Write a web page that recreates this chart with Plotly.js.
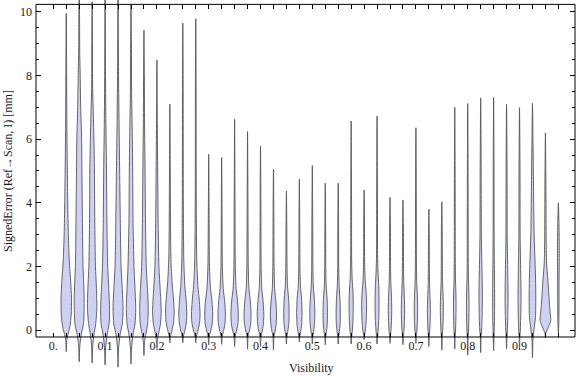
<!DOCTYPE html>
<html><head><meta charset="utf-8">
<script src="https://cdn.plot.ly/plotly-3.0.1.min.js"></script>
<style>html,body{margin:0;padding:0;background:#fff}#chart{width:576px;height:377px}</style>
</head><body><div id="chart"></div>
<script>
// ---- data ----
const visibility = [0.025,0.05,0.075,0.1,0.125,0.15,0.175,0.2,0.225,0.25,0.275,0.3,0.325,0.35,0.375,0.4,0.425,0.45,0.475,0.5,0.525,0.55,0.575,0.6,0.625,0.65,0.675,0.7,0.725,0.75,0.775,0.8,0.825,0.85,0.875,0.9,0.925,0.95,0.975];
const errMin = [-0.68,-1.0,-1.04,-1.1,-1.17,-1.07,-0.8,-0.57,-0.41,-0.4,-0.4,-0.47,-0.45,-0.52,-0.6,-0.52,-0.63,-0.44,-0.37,-0.44,-0.47,-0.44,-0.44,-0.3,-0.44,-0.42,-0.46,-0.42,-0.52,-0.63,-0.6,-0.79,-0.71,-0.65,-0.6,-0.6,-0.88,-0.25,-0.1];
const errMax = [9.96,10.9,10.32,11.0,10.8,10.22,9.43,8.49,7.1,9.65,9.79,5.53,5.42,6.63,6.24,5.79,5.06,4.37,4.75,5.17,4.62,4.62,6.57,4.4,6.73,4.17,4.09,6.36,3.8,4.03,7.0,7.12,7.3,7.31,7.09,6.99,7.13,6.2,4.0];
// density profile of each violin: error levels and relative density (half-width) at those levels
const densityLevels = [
 [-0.3,-0.1,0.1,0.5,1.0,1.5,2.2,3,4,5,6.5,8],
 [-0.5,-0.15,0.2,0.9,1.5,2,3.5,5,6,7,8,8.8,9.6],
 [-0.5,-0.1,0.2,0.7,1.3,2,3.5,5,6,7,7.6,9],
 [-0.6,-0.15,0.2,0.6,1.2,2,3.5,5,6.5,8],
 [-0.6,-0.15,0.2,0.7,1.3,2,3.5,5,6.5,8],
 [-0.6,-0.15,0.2,0.65,1.3,2,3.5,5,6.5,7.5,9],
 [-0.4,-0.1,0.2,0.7,1.3,2,3.5,5,6.5,8],
 [-0.3,-0.05,0.2,0.6,1.2,2,3.5,5,6.5],
 [-0.2,0,0.25,0.6,1.0,1.5,2.2,3.5,5],
 [-0.2,0,0.25,0.5,0.9,1.4,2.2,3.5,5.5,7.5],
 [-0.2,0,0.25,0.5,0.9,1.4,2.2,3.5,5.5,7.5],
 [-0.2,0,0.2,0.5,0.9,1.3,2,3.5],
 [-0.2,0,0.2,0.5,0.9,1.3,2,3.5],
 [-0.2,0,0.2,0.5,0.9,1.3,2,4],
 [-0.2,0,0.2,0.5,0.9,1.3,2,4],
 [-0.2,0,0.2,0.5,0.9,1.3,2,4],
 [-0.2,0,0.2,0.5,0.9,1.3,2,3.5],
 [-0.2,0,0.2,0.55,1.0,1.4,2,3.2],
 [-0.2,0,0.2,0.55,1.0,1.4,2,3.2],
 [-0.2,0,0.2,0.55,1.0,1.4,2,3.5],
 [-0.2,0,0.2,0.55,1.0,1.4,2,3.2],
 [-0.2,0,0.2,0.55,1.0,1.4,2,3.2],
 [-0.2,0,0.3,0.8,1.2,1.6,2.2,4],
 [-0.15,0,0.3,0.8,1.2,1.6,2.2,3.5],
 [-0.2,0,0.3,0.9,1.4,1.8,2.4,4],
 [-0.2,0,0.3,0.7,1.1,1.5,2.2,3.3],
 [-0.2,0,0.3,0.6,1.0,1.5,2.2,3.3],
 [-0.2,0,0.3,0.7,1.1,1.5,2.2,4],
 [-0.2,0,0.3,0.6,1.0,1.4,2,3],
 [-0.2,0,0.3,0.7,1.1,1.5,2.2,3.2],
 [-0.2,0,0.3,0.8,1.2,1.6,2.4,4.5],
 [-0.2,0,0.3,0.8,1.2,1.6,2.4,4.5],
 [-0.2,0,0.4,1.0,1.6,2.2,3,5],
 [-0.2,0,0.4,1.0,1.6,2.2,3,5],
 [-0.2,0,0.4,1.0,1.6,2.2,3,5],
 [-0.2,0,0.4,1.0,1.6,2.2,3,5],
 [-0.3,0,0.4,1.0,1.6,2.2,3.1,4.0,4.7,6],
 [-0.1,0.05,0.3,0.6,1.0,1.6,2.1,3,4.5],
 [0.3,1.5,2.5,3.3]
];
const densityValues = [
 [0.6,2.0,3.6,5.0,5.2,4.5,3.0,2.1,1.5,1.1,0.6,0.4],
 [0.6,2.0,4.3,5.0,4.5,3.8,3.2,2.7,2.4,1.5,1.0,0.5,0.4],
 [0.6,2.0,3.6,4.7,4.3,3.3,2.6,2.3,1.8,1.0,0.5,0.4],
 [0.5,2.0,4.0,4.5,3.8,2.6,1.8,1.4,0.8,0.4],
 [0.5,2.0,4.3,5.0,4.2,3.0,2.2,1.6,1.0,0.5],
 [0.5,2.0,4.0,4.7,4.0,3.0,2.0,1.7,1.1,0.6,0.4],
 [0.5,2.0,3.7,4.3,3.5,2.3,1.5,1.1,0.6,0.4],
 [0.6,2.0,3.6,4.3,3.4,2.0,1.2,0.8,0.4],
 [0.6,2.2,3.8,4.3,3.6,2.2,1.1,0.6,0.4],
 [0.6,2.2,3.6,4.0,3.4,2.0,1.0,0.6,0.4,0.35],
 [0.6,2.3,3.9,4.3,3.6,2.1,1.0,0.6,0.4,0.35],
 [0.6,2.2,3.5,4.0,3.3,1.8,0.8,0.4],
 [0.6,2.1,3.3,3.7,3.0,1.6,0.7,0.4],
 [0.6,2.1,3.3,3.7,3.0,1.5,0.7,0.4],
 [0.5,2.0,3.1,3.5,2.8,1.4,0.7,0.4],
 [0.5,1.9,2.9,3.3,2.6,1.3,0.6,0.4],
 [0.5,1.8,2.7,3.1,2.4,1.2,0.6,0.4],
 [0.5,1.6,2.4,2.7,2.2,1.1,0.6,0.4],
 [0.5,1.6,2.4,2.7,2.2,1.1,0.6,0.4],
 [0.5,1.5,2.2,2.5,2.0,1.0,0.6,0.4],
 [0.5,1.4,2.0,2.2,1.8,0.9,0.5,0.4],
 [0.5,1.3,1.9,2.1,1.7,0.9,0.5,0.4],
 [0.5,1.2,1.8,2.1,1.8,1.0,0.5,0.4],
 [0.5,1.3,2.1,2.5,2.0,1.0,0.5,0.4],
 [0.5,1.1,1.7,2.0,1.7,1.0,0.5,0.4],
 [0.4,1.0,1.5,1.7,1.4,0.8,0.5,0.4],
 [0.4,1.0,1.5,1.7,1.4,0.8,0.5,0.4],
 [0.4,1.0,1.5,1.7,1.4,0.8,0.5,0.4],
 [0.4,0.9,1.3,1.5,1.2,0.7,0.5,0.4],
 [0.4,0.9,1.3,1.5,1.2,0.7,0.5,0.4],
 [0.4,0.8,1.1,1.3,1.1,0.7,0.5,0.4],
 [0.4,0.8,1.1,1.3,1.1,0.7,0.5,0.4],
 [0.4,0.9,1.4,1.7,1.5,1.1,0.7,0.5],
 [0.4,0.6,0.9,1.0,0.9,0.7,0.5,0.4],
 [0.4,0.8,1.2,1.5,1.3,1.0,0.6,0.5],
 [0.4,0.8,1.2,1.5,1.3,1.0,0.6,0.5],
 [0.5,1.5,3.0,3.3,3.1,2.5,1.6,1.2,1.0,0.5],
 [0.4,2.5,5.3,4.6,3.6,2.4,1.2,0.7,0.5],
 [0.5,0.7,0.9,0.6]
];
const xTickVals = [0,0.025,0.05,0.075,0.1,0.125,0.15,0.175,0.2,0.225,0.25,0.275,0.3,0.325,0.35,0.375,0.4,0.425,0.45,0.475,0.5,0.525,0.55,0.575,0.6,0.625,0.65,0.675,0.7,0.725,0.75,0.775,0.8,0.825,0.85,0.875,0.9,0.925,0.95,0.975];
const xMajorVals = [0,0.1,0.2,0.3,0.4,0.5,0.6,0.7,0.8,0.9];
const xMajorText = ["0.","0.1","0.2","0.3","0.4","0.5","0.6","0.7","0.8","0.9"];
const yMajorVals = [0,2,4,6,8,10];
const yMajorText = ["0","2","4","6","8","10"];
const yMinorVals = [0.5,1,1.5,2.5,3,3.5,4.5,5,5.5,6.5,7,7.5,8.5,9,9.5];

// ---- presentation ----
const WIDTH_SCALE = 1/518;      // density unit -> x units
const Y0 = -1.478, Y1 = 10.377; // plotting area (violins overflow the frame)
const FRAME_B = -0.22, FRAME_T = 10.24;
const pos = v => (v - Y0) / (Y1 - Y0);

const traces = visibility.map((c, i) => {
  const ys = [errMin[i], ...densityLevels[i], errMax[i]];
  const ws = [0, ...densityValues[i], 0];
  const x = [], y = [];
  for (let k = 0; k < ys.length; k++) { x.push(c + ws[k] * WIDTH_SCALE); y.push(ys[k]); }
  for (let k = ys.length - 2; k >= 0; k--) { x.push(c - ws[k] * WIDTH_SCALE); y.push(ys[k]); }
  return {type:'scatter', mode:'lines', x, y, fill:'toself', fillcolor:'#cdd1f4',
    line:{color:'#555555', width:0.9, shape:'spline', smoothing:0.7},
    hoverinfo:'skip', showlegend:false};
});
traces.push({type:'scatter', mode:'markers', x:[0.5], y:[5], xaxis:'x2', marker:{opacity:0}, hoverinfo:'skip', showlegend:false});

const xText = xTickVals.map(v => { const j = xMajorVals.findIndex(m => Math.abs(m - v) < 1e-9); return j >= 0 ? xMajorText[j] : ''; });
const FONT = '"Liberation Serif", "Times New Roman", "DejaVu Serif", serif';
const XR = [-0.0334, 1.0071];

const layout = {
  width:576, height:377, margin:{l:36, r:1, t:0, b:0},
  paper_bgcolor:'#fff', plot_bgcolor:'rgba(0,0,0,0)',
  font:{family:FONT, size:12, color:'#1a1a1a'},
  showlegend:false,
  xaxis:{range:XR, anchor:'free', position:pos(FRAME_B), tickmode:'array', tickvals:xTickVals, ticktext:xText,
    ticks:'inside', ticklen:4, tickcolor:'#000', tickwidth:1, showgrid:false, zeroline:false, showline:false,
    tickfont:{family:FONT, size:12, color:'#1a1a1a'}, fixedrange:true},
  xaxis2:{range:XR, overlaying:'x', anchor:'free', position:pos(FRAME_T), side:'top', tickmode:'array', tickvals:xTickVals,
    ticks:'inside', ticklen:4, tickcolor:'#000', tickwidth:1, showticklabels:false, showgrid:false, zeroline:false, showline:false},
  yaxis:{range:[Y0, Y1], tickmode:'array', tickvals:yMajorVals, ticktext:yMajorText, ticks:'inside', ticklen:5,
    tickcolor:'#000', tickwidth:1, mirror:'ticks', showgrid:false, zeroline:false, showline:false, ticklabelstandoff:3,
    minor:{tickmode:'array', tickvals:yMinorVals, ticks:'inside', ticklen:3, tickcolor:'#000', tickwidth:1},
    tickfont:{family:FONT, size:12, color:'#1a1a1a'}},
  shapes:[{type:'rect', xref:'paper', yref:'y', x0:0, x1:1, y0:FRAME_B, y1:FRAME_T, line:{color:'#000', width:1}, layer:'above'}],
  annotations:[
    {text:'Visibility', xref:'paper', yref:'paper', x:(311-36)/539, y:(377-368)/377, xanchor:'center', yanchor:'middle', showarrow:false, font:{family:FONT, size:12, color:'#1a1a1a'}},
    {text:'SignedError (Ref→Scan, I) [mm]', xref:'paper', yref:'paper', x:(8-36)/539, y:(377-171)/377, textangle:-90, xanchor:'center', yanchor:'middle', showarrow:false, font:{family:FONT, size:12, color:'#1a1a1a'}}
  ]
};
Plotly.newPlot('chart', traces, layout, {staticPlot:true, displayModeBar:false});
</script></body></html>
